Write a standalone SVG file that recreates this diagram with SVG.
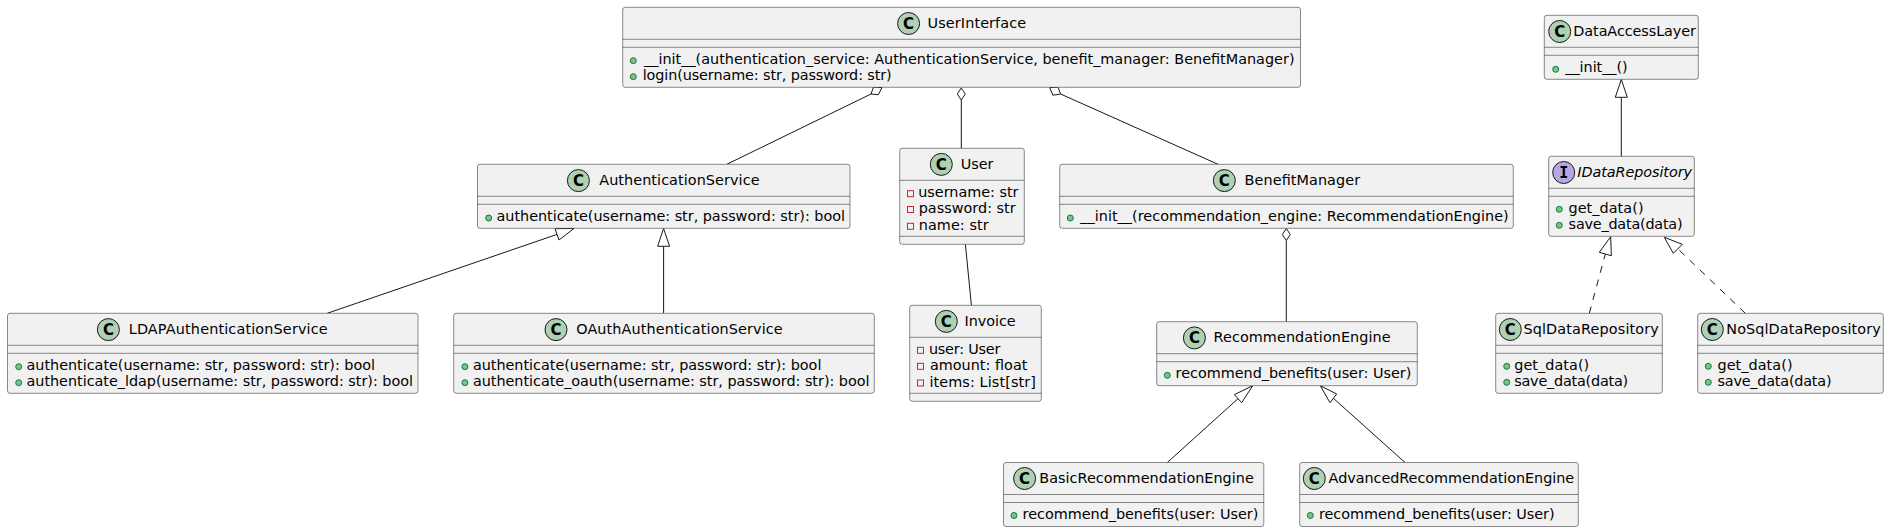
<svg xmlns="http://www.w3.org/2000/svg" width="1889" height="532" viewBox="0 0 1889 532">
<style>
text{font-family:"DejaVu Sans",sans-serif;font-size:14.4px;fill:#000}
.box{fill:#F1F1F1;stroke:#181818;stroke-width:.5}
.sep{stroke:#181818;stroke-width:.5;fill:none}
.c{fill:#ADD1B2;stroke:#181818;stroke-width:1}
.i{fill:#B4A7E5;stroke:#181818;stroke-width:1}
text.l{font-weight:700;font-size:15px;text-anchor:middle;transform:translateY(.4px)}
text.m{font-family:"DejaVu Sans Mono",monospace;font-size:15px}
.pub{fill:#84BE84;stroke:#038048;stroke-width:1}
.pri{fill:none;stroke:#C82930;stroke-width:1}
.ln{fill:none;stroke:#181818;stroke-width:1}
.dash{stroke-dasharray:7,7}
.hd{fill:#fff;stroke:#181818;stroke-width:1}
</style>
<rect width="1889" height="532" fill="#fff"/>
<g id="connectors">
<line class="ln" x1="726.8" y1="164.3" x2="871" y2="94"/><polygon class="hd" points="882,87.6 878.3,94.7 871,94 873.5,87.1"/>
<line class="ln" x1="961.3" y1="148.3" x2="961.3" y2="100"/><polygon class="hd" points="961.3,88 965.3,94 961.3,100 957.3,94"/>
<line class="ln" x1="1218" y1="164.3" x2="1060.6" y2="94"/><polygon class="hd" points="1049.7,87.6 1058,87.1 1060.6,94 1052.9,95.2"/>
<line class="ln" x1="965.4" y1="244.3" x2="971.4" y2="305.3"/>
<line class="ln" x1="1286.3" y1="321.7" x2="1286.3" y2="240.5"/><polygon class="hd" points="1286.3,228.5 1290.3,234.5 1286.3,240.5 1282.3,234.5"/>
<line class="ln" x1="327.2" y1="313.3" x2="557" y2="234.4"/><polygon class="hd" points="574,228.5 555,228.7 559,240"/>
<line class="ln" x1="663.6" y1="313.3" x2="663.6" y2="246.3"/><polygon class="hd" points="663.6,228.5 669.6,246.3 657.6,246.3"/>
<line class="ln" x1="1167.3" y1="462.5" x2="1238" y2="398.7"/><polygon class="hd" points="1252.7,385.7 1234.3,394.7 1241.7,402.7"/>
<line class="ln" x1="1405" y1="462.5" x2="1333.5" y2="398.4"/><polygon class="hd" points="1320.3,385.7 1336.7,394 1330,402.7"/>
<line class="ln" x1="1621.3" y1="156.3" x2="1621.3" y2="97.3"/><polygon class="hd" points="1621.3,79.5 1627.3,97.3 1615.3,97.3"/>
<line class="ln dash" x1="1589.3" y1="313.3" x2="1605.3" y2="254"/><polygon class="hd" points="1610.7,236.7 1599.3,252.3 1611.3,255.7"/>
<line class="ln dash" x1="1745.3" y1="313.3" x2="1677.8" y2="248.8"/><polygon class="hd" points="1664.3,237.3 1673.3,253.3 1682.3,244.3"/>
</g>
<g id="UserInterface"><rect class="box" x="622.7" y="7.3" width="677.8" height="80" rx="2.5"/><ellipse class="c" cx="908.6" cy="23.5" rx="11" ry="11"/><text class="l" x="908.6" y="28.5">C</text><text x="927.6" y="28.3" textLength="98.5">UserInterface</text><line class="sep" x1="622.7" y1="39.3" x2="1300.5" y2="39.3"/><line class="sep" x1="622.7" y1="47.3" x2="1300.5" y2="47.3"/><ellipse class="pub" cx="633.3" cy="60.7" rx="3" ry="3"/><text x="644" y="64.3" textLength="650.5">__init__(authentication_service: AuthenticationService, benefit_manager: BenefitManager)</text><ellipse class="pub" cx="633.3" cy="76.7" rx="3" ry="3"/><text x="642.7" y="80.3" textLength="249">login(username: str, password: str)</text></g>
<g id="AuthenticationService"><rect class="box" x="477.5" y="164.3" width="372.5" height="64" rx="2.5"/><ellipse class="c" cx="578.4" cy="180.6" rx="11" ry="11"/><text class="l" x="578.4" y="185.6">C</text><text x="599.2" y="185.3" textLength="160.3">AuthenticationService</text><line class="sep" x1="477.5" y1="196.3" x2="850" y2="196.3"/><line class="sep" x1="477.5" y1="204.3" x2="850" y2="204.3"/><ellipse class="pub" cx="488.7" cy="218" rx="3" ry="3"/><text x="496.5" y="221.3" textLength="348.5">authenticate(username: str, password: str): bool</text></g>
<g id="User"><rect class="box" x="899.7" y="148.3" width="124.6" height="96" rx="2.5"/><ellipse class="c" cx="941.3" cy="164.4" rx="11" ry="11"/><text class="l" x="941.3" y="169.4">C</text><text x="960.8" y="169.3" textLength="32.5">User</text><line class="sep" x1="899.7" y1="180.3" x2="1024.3" y2="180.3"/><line class="sep" x1="899.7" y1="236.3" x2="1024.3" y2="236.3"/><rect class="pri" x="907.5" y="190.7" width="6" height="6"/><text x="918.2" y="197" textLength="100.3">username: str</text><rect class="pri" x="907.5" y="206.5" width="6" height="6"/><text x="918.7" y="213" textLength="97">password: str</text><rect class="pri" x="907.5" y="223.3" width="6" height="6"/><text x="918.7" y="230" textLength="70">name: str</text></g>
<g id="BenefitManager"><rect class="box" x="1059.7" y="164.3" width="453.6" height="64" rx="2.5"/><ellipse class="c" cx="1224.3" cy="180.6" rx="11" ry="11"/><text class="l" x="1224.3" y="185.6">C</text><text x="1244.6" y="185.3" textLength="115.5">BenefitManager</text><line class="sep" x1="1059.7" y1="196.3" x2="1513.3" y2="196.3"/><line class="sep" x1="1059.7" y1="204.3" x2="1513.3" y2="204.3"/><ellipse class="pub" cx="1070.3" cy="218" rx="3" ry="3"/><text x="1080.3" y="221.3" textLength="428.4">__init__(recommendation_engine: RecommendationEngine)</text></g>
<g id="LDAPAuthenticationService"><rect class="box" x="7.5" y="313.3" width="410.5" height="80" rx="2.5"/><ellipse class="c" cx="108.4" cy="329.6" rx="11" ry="11"/><text class="l" x="108.4" y="334.6">C</text><text x="128.7" y="334.3" textLength="199">LDAPAuthenticationService</text><line class="sep" x1="7.5" y1="345.3" x2="418" y2="345.3"/><line class="sep" x1="7.5" y1="353.3" x2="418" y2="353.3"/><ellipse class="pub" cx="18.7" cy="366.7" rx="3" ry="3"/><text x="26.5" y="370.2" textLength="348.5">authenticate(username: str, password: str): bool</text><ellipse class="pub" cx="18.7" cy="382.7" rx="3" ry="3"/><text x="26.5" y="386.2" textLength="386.5">authenticate_ldap(username: str, password: str): bool</text></g>
<g id="OAuthAuthenticationService"><rect class="box" x="453.7" y="313.3" width="420.6" height="80" rx="2.5"/><ellipse class="c" cx="556" cy="329.6" rx="11" ry="11"/><text class="l" x="556" y="334.6">C</text><text x="576.2" y="334.3" textLength="206.5">OAuthAuthenticationService</text><line class="sep" x1="453.7" y1="345.3" x2="874.3" y2="345.3"/><line class="sep" x1="453.7" y1="353.3" x2="874.3" y2="353.3"/><ellipse class="pub" cx="464.9" cy="366.7" rx="3" ry="3"/><text x="472.9" y="370.2" textLength="348.5">authenticate(username: str, password: str): bool</text><ellipse class="pub" cx="464.9" cy="382.7" rx="3" ry="3"/><text x="472.9" y="386.2" textLength="396.6">authenticate_oauth(username: str, password: str): bool</text></g>
<g id="Invoice"><rect class="box" x="909.7" y="305.3" width="131.6" height="96" rx="2.5"/><ellipse class="c" cx="946.3" cy="321.4" rx="11" ry="11"/><text class="l" x="946.3" y="326.4">C</text><text x="964.6" y="326.3" textLength="51">Invoice</text><line class="sep" x1="909.7" y1="337.3" x2="1041.3" y2="337.3"/><line class="sep" x1="909.7" y1="393.3" x2="1041.3" y2="393.3"/><rect class="pri" x="917.5" y="347.3" width="6" height="6"/><text x="928.9" y="353.7" textLength="71.5">user: User</text><rect class="pri" x="917.5" y="363.3" width="6" height="6"/><text x="929.9" y="370" textLength="97.5">amount: float</text><rect class="pri" x="917.5" y="380" width="6" height="6"/><text x="929.4" y="387" textLength="106.5">items: List[str]</text></g>
<g id="RecommendationEngine"><rect class="box" x="1156.7" y="321.7" width="260.6" height="64" rx="2.5"/><ellipse class="c" cx="1194.4" cy="337.9" rx="11" ry="11"/><text class="l" x="1194.4" y="342.9">C</text><text x="1213.6" y="342.4" textLength="177">RecommendationEngine</text><line class="sep" x1="1156.7" y1="353.7" x2="1417.3" y2="353.7"/><line class="sep" x1="1156.7" y1="361.7" x2="1417.3" y2="361.7"/><ellipse class="pub" cx="1167.3" cy="375.3" rx="3" ry="3"/><text x="1175.6" y="378.4" textLength="235.7">recommend_benefits(user: User)</text></g>
<g id="BasicRecommendationEngine"><rect class="box" x="1003.5" y="462.5" width="260.3" height="64" rx="2.5"/><ellipse class="c" cx="1024.6" cy="478.5" rx="11" ry="11"/><text class="l" x="1024.6" y="483.5">C</text><text x="1039.3" y="483.3" textLength="214.5">BasicRecommendationEngine</text><line class="sep" x1="1003.5" y1="494.5" x2="1263.8" y2="494.5"/><line class="sep" x1="1003.5" y1="502.5" x2="1263.8" y2="502.5"/><ellipse class="pub" cx="1014" cy="515.5" rx="3" ry="3"/><text x="1022.6" y="519" textLength="235.7">recommend_benefits(user: User)</text></g>
<g id="AdvancedRecommendationEngine"><rect class="box" x="1299.7" y="462.5" width="278.6" height="64" rx="2.5"/><ellipse class="c" cx="1314.3" cy="478.5" rx="11" ry="11"/><text class="l" x="1314.3" y="483.5">C</text><text x="1328.6" y="483.3" textLength="245.5">AdvancedRecommendationEngine</text><line class="sep" x1="1299.7" y1="494.5" x2="1578.3" y2="494.5"/><line class="sep" x1="1299.7" y1="502.5" x2="1578.3" y2="502.5"/><ellipse class="pub" cx="1310.3" cy="515.5" rx="3" ry="3"/><text x="1318.9" y="519" textLength="235.7">recommend_benefits(user: User)</text></g>
<g id="DataAccessLayer"><rect class="box" x="1544.3" y="15.3" width="154" height="64" rx="2.5"/><ellipse class="c" cx="1559.7" cy="31.5" rx="11" ry="11"/><text class="l" x="1559.7" y="36.5">C</text><text x="1573.3" y="36.3" textLength="122.7">DataAccessLayer</text><line class="sep" x1="1544.3" y1="47.3" x2="1698.3" y2="47.3"/><line class="sep" x1="1544.3" y1="55.3" x2="1698.3" y2="55.3"/><ellipse class="pub" cx="1555.7" cy="69.3" rx="3" ry="3"/><text x="1565.3" y="72.3" textLength="62.4">__init__()</text></g>
<g id="IDataRepository"><rect class="box" x="1548.7" y="156.3" width="145.6" height="80" rx="2.5"/><ellipse class="i" cx="1563.7" cy="172.5" rx="11" ry="11"/><text class="l m" x="1563.7" y="177.5">I</text><text x="1577.3" y="177.3" font-style="italic" textLength="114.7">IDataRepository</text><line class="sep" x1="1548.7" y1="188.3" x2="1694.3" y2="188.3"/><line class="sep" x1="1548.7" y1="196.3" x2="1694.3" y2="196.3"/><ellipse class="pub" cx="1559.3" cy="209.3" rx="3" ry="3"/><text x="1568.5" y="213.3" textLength="75">get_data()</text><ellipse class="pub" cx="1559.3" cy="225.3" rx="3" ry="3"/><text x="1568.6" y="229.3" textLength="114">save_data(data)</text></g>
<g id="SqlDataRepository"><rect class="box" x="1495.7" y="313.3" width="166.6" height="80" rx="2.5"/><ellipse class="c" cx="1510.3" cy="329.5" rx="11" ry="11"/><text class="l" x="1510.3" y="334.5">C</text><text x="1523.4" y="334.3" textLength="135.5">SqlDataRepository</text><line class="sep" x1="1495.7" y1="345.3" x2="1662.3" y2="345.3"/><line class="sep" x1="1495.7" y1="353.3" x2="1662.3" y2="353.3"/><ellipse class="pub" cx="1506.7" cy="366.3" rx="3" ry="3"/><text x="1514.2" y="370.3" textLength="75">get_data()</text><ellipse class="pub" cx="1506.7" cy="382.3" rx="3" ry="3"/><text x="1514.2" y="386.3" textLength="114">save_data(data)</text></g>
<g id="NoSqlDataRepository"><rect class="box" x="1697.7" y="313.3" width="185.6" height="80" rx="2.5"/><ellipse class="c" cx="1712.3" cy="329.5" rx="11" ry="11"/><text class="l" x="1712.3" y="334.5">C</text><text x="1726.3" y="334.3" textLength="154.5">NoSqlDataRepository</text><line class="sep" x1="1697.7" y1="345.3" x2="1883.3" y2="345.3"/><line class="sep" x1="1697.7" y1="353.3" x2="1883.3" y2="353.3"/><ellipse class="pub" cx="1708.3" cy="366.3" rx="3" ry="3"/><text x="1717.5" y="370.3" textLength="75">get_data()</text><ellipse class="pub" cx="1708.3" cy="382.3" rx="3" ry="3"/><text x="1717.5" y="386.3" textLength="114">save_data(data)</text></g>
</svg>
